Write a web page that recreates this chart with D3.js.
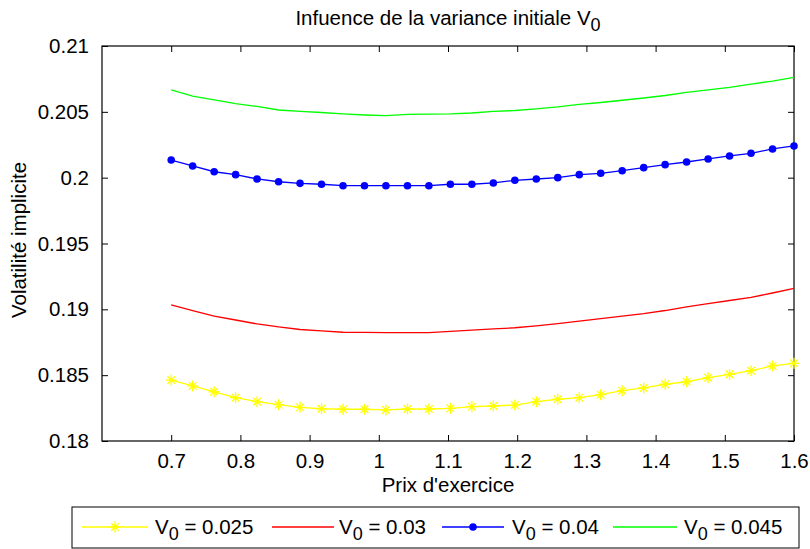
<!DOCTYPE html>
<html><head><meta charset="utf-8">
<script src="https://cdn.jsdelivr.net/npm/d3@7"></script>
<style>
html,body{margin:0;padding:0;background:#fff;}
text{font-family:"Liberation Sans",Arial,sans-serif;fill:#000;}
</style></head>
<body><svg id="c" width="810" height="549"></svg>
<script>
const strikes = [0.7,0.7310,0.7621,0.7931,0.8241,0.8552,0.8862,0.9172,0.9483,0.9793,1.0103,1.0414,1.0724,1.1034,1.1345,1.1655,1.1966,1.2276,1.2586,1.2897,1.3207,1.3517,1.3828,1.4138,1.4448,1.4759,1.5069,1.5379,1.5690,1.6];
const v025 = [0.18463,0.18418,0.18374,0.18329,0.18299,0.18276,0.18256,0.18245,0.18241,0.18241,0.18236,0.18243,0.18243,0.18248,0.18261,0.18266,0.18273,0.18299,0.18317,0.18329,0.18352,0.18382,0.18403,0.18431,0.18450,0.18481,0.18506,0.18534,0.18570,0.18590];
const v03 = [0.19033,0.18990,0.18949,0.18919,0.18889,0.18866,0.18847,0.18836,0.18826,0.18825,0.18823,0.18823,0.18823,0.18832,0.18842,0.18851,0.18860,0.18875,0.18892,0.18911,0.18930,0.18949,0.18968,0.18991,0.19018,0.19044,0.19067,0.19090,0.19124,0.19160];
const v04 = [0.20134,0.20089,0.20045,0.20023,0.19990,0.19969,0.19957,0.19950,0.19939,0.19939,0.19939,0.19939,0.19939,0.19950,0.19950,0.19960,0.19980,0.19990,0.20000,0.20023,0.20033,0.20053,0.20076,0.20099,0.20119,0.20142,0.20165,0.20185,0.20218,0.20241];
const v045 = [0.20666,0.20620,0.20590,0.20563,0.20541,0.20514,0.20503,0.20495,0.20484,0.20476,0.20471,0.20481,0.20482,0.20484,0.20491,0.20503,0.20510,0.20522,0.20537,0.20556,0.20571,0.20588,0.20605,0.20624,0.20647,0.20666,0.20685,0.20711,0.20734,0.20762];
const seriesNames = ["0.025","0.03","0.04","0.045"];
const xTicks = [0.7,0.8,0.9,1,1.1,1.2,1.3,1.4,1.5,1.6];
const yTicks = [0.18,0.185,0.19,0.195,0.2,0.205,0.21];

const series = [
  {name:seriesNames[0], vals:v025, color:"#ffff00", marker:"star"},
  {name:seriesNames[1], vals:v03, color:"#ff0000", marker:null},
  {name:seriesNames[2], vals:v04, color:"#0000ff", marker:"dot"},
  {name:seriesNames[3], vals:v045, color:"#00ff00", marker:null}
];

const L=102, R=794, T=46, B=441;
const svg = d3.select("#c");
const x = d3.scaleLinear().domain([0.6,1.6]).range([L,R]);
const y = d3.scaleLinear().domain([0.18,0.21]).range([B,T]);
const FS = 20.5, SUB = 18;

// axes box
svg.append("rect").attr("x",L).attr("y",T).attr("width",R-L).attr("height",B-T)
  .attr("fill","none").attr("stroke","#000").attr("stroke-width",1.2);

const tk = 6;
const xb = svg.append("g").attr("transform",`translate(0,${B})`)
  .call(d3.axisBottom(x).tickValues(xTicks).tickSizeInner(-tk).tickSizeOuter(0).tickPadding(12).tickFormat(d3.format("")));
const xt = svg.append("g").attr("transform",`translate(0,${T})`)
  .call(d3.axisTop(x).tickValues(xTicks).tickSizeInner(-tk).tickSizeOuter(0).tickFormat(""));
const yl = svg.append("g").attr("transform",`translate(${L},0)`)
  .call(d3.axisLeft(y).tickValues(yTicks).tickSizeInner(-tk).tickSizeOuter(0).tickPadding(13).tickFormat(d3.format("")));
const yr = svg.append("g").attr("transform",`translate(${R},0)`)
  .call(d3.axisRight(y).tickValues(yTicks).tickSizeInner(-tk).tickSizeOuter(0).tickFormat(""));
[xb,xt,yl,yr].forEach(g=>{
  g.select(".domain").remove();
  g.selectAll(".tick line").attr("stroke","#000").attr("stroke-width",1);
  g.selectAll(".tick text").attr("font-size",FS).attr("font-family","Liberation Sans, Arial, sans-serif").attr("fill","#000");
});

// lines
const line = d3.line().x((d,i)=>x(strikes[i])).y(d=>y(d));
series.forEach(s=>{
  svg.append("path").datum(s.vals).attr("d",line).attr("fill","none")
    .attr("stroke",s.color).attr("stroke-width",1.3);
});
const starPath = "M0,-5.5V5.5M-5.5,0H5.5M-3.8,-3.8L3.8,3.8M-3.8,3.8L3.8,-3.8";
function drawMarker(g, s, cx, cy){
  if(s.marker==="dot"){
    g.append("circle").attr("cx",cx).attr("cy",cy).attr("r",3.8).attr("fill",s.color);
  } else if(s.marker==="star"){
    g.append("path").attr("d",starPath).attr("transform",`translate(${cx},${cy})`)
      .attr("stroke",s.color).attr("stroke-width",1.3).attr("fill","none");
  }
}
series.forEach(s=>{
  if(!s.marker) return;
  const g = svg.append("g");
  s.vals.forEach((v,i)=>drawMarker(g,s,x(strikes[i]),y(v)));
});

// title
const title = svg.append("text").attr("x",(L+R)/2).attr("y",25).attr("text-anchor","middle").attr("font-size",FS);
title.append("tspan").text("Infuence de la variance initiale V");
title.append("tspan").attr("font-size",SUB).attr("dy",6).text("0");

svg.append("text").attr("x",(L+R)/2).attr("y",492).attr("text-anchor","middle").attr("font-size",FS).text("Prix d'exercice");
svg.append("text").attr("transform",`translate(26,240) rotate(-90)`).attr("text-anchor","middle").attr("font-size",FS).text("Volatilité implicite");

// legend
svg.append("rect").attr("x",72).attr("y",507).attr("width",727).attr("height",41)
  .attr("fill","#fff").attr("stroke","#000").attr("stroke-width",1);
const legX = [[82,148,155],[272,334,339],[442,504,512],[613,677,684]];
const ly = 527;
series.forEach((s,i)=>{
  const [a,b,t] = legX[i];
  svg.append("line").attr("x1",a).attr("x2",b).attr("y1",ly).attr("y2",ly).attr("stroke",s.color).attr("stroke-width",1.3);
  const g = svg.append("g");
  drawMarker(g,s,(a+b)/2,ly);
  const tx = svg.append("text").attr("x",t).attr("y",ly+7).attr("font-size",FS);
  tx.append("tspan").text("V");
  tx.append("tspan").attr("font-size",SUB).attr("dy",6).text("0");
  tx.append("tspan").attr("dy",-6).text(" = " + s.name);
});
</script></body></html>
